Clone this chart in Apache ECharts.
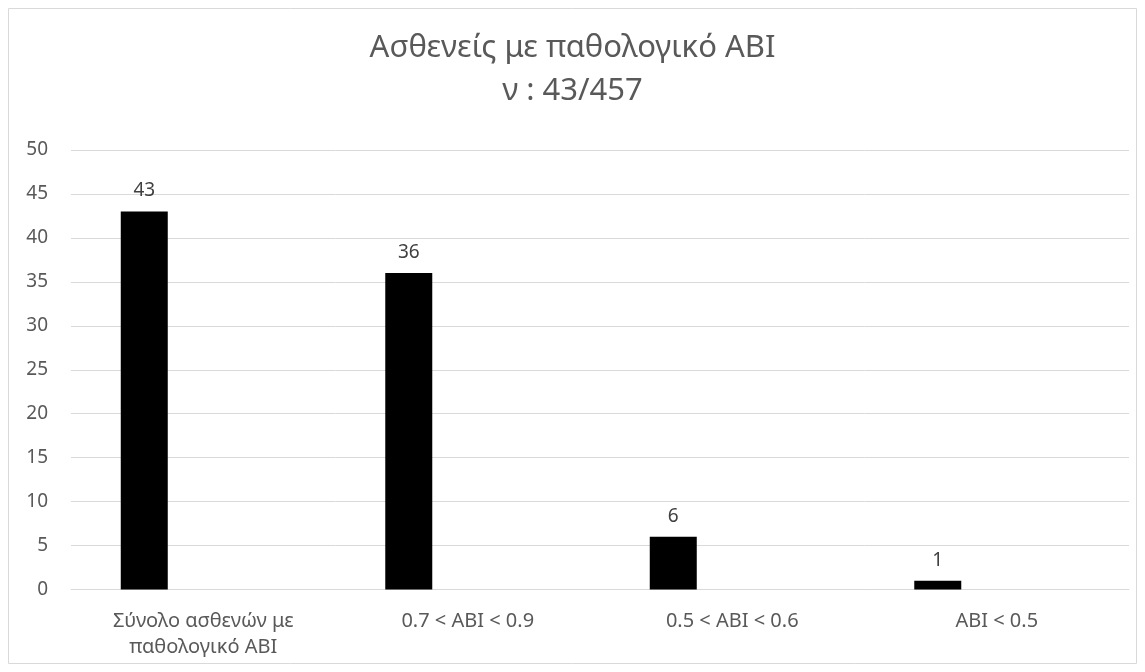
<!DOCTYPE html>
<html><head><meta charset="utf-8">
<script src="https://cdn.jsdelivr.net/npm/echarts@6/dist/echarts.min.js"></script>
<style>html,body{margin:0;padding:0;background:#fff}#c{width:1145px;height:672px}</style>
</head><body><div id="c"></div>
<script>
const titleLines = ['Ασθενείς με παθολογικό ABI', 'ν : 43/457'];
const categories = ['Σύνολο ασθενών με\nπαθολογικό ABI', '0.7 < ABI < 0.9', '0.5 < ABI < 0.6', 'ABI < 0.5'];
const values = [43, 36, 6, 1];
const emptySeries = [null, null, null, null];
const yMin = 0, yMax = 50, yInterval = 5;

const FONT = 'Noto Sans';
const chart = echarts.init(document.getElementById('c'));
chart.setOption({
  animation: false,
  backgroundColor: '#fff',
  graphic: [{type: 'rect', shape: {x: 8.5, y: 8.5, width: 1128, height: 655}, style: {fill: 'none', stroke: '#d9d9d9', lineWidth: 1}, silent: true}],
  title: {
    text: titleLines.join('\n'),
    left: 'center', top: 22,
    textStyle: {fontFamily: FONT, fontWeight: 'normal', fontSize: 31, color: '#595959', lineHeight: 43}
  },
  grid: {left: 71, right: 16, top: 150, bottom: 82.5, containLabel: false},
  xAxis: {
    type: 'category', data: categories,
    axisLine: {lineStyle: {color: '#d9d9d9', width: 1}},
    axisTick: {show: false},
    axisLabel: {fontFamily: FONT, fontSize: 20, color: '#595959', margin: 19, lineHeight: 26, interval: 0}
  },
  yAxis: {
    type: 'value', min: yMin, max: yMax, interval: yInterval,
    axisLine: {show: false}, axisTick: {show: false},
    splitLine: {lineStyle: {color: '#d9d9d9', width: 1}},
    axisLabel: {fontFamily: FONT, fontSize: 19, color: '#595959', margin: 23}
  },
  series: [
    {type: 'bar', data: values, barWidth: 47, barGap: '151%', itemStyle: {color: '#000'},
     label: {show: true, position: 'top', distance: 11, fontFamily: FONT, fontSize: 19, color: '#404040'}},
    {type: 'bar', data: emptySeries, barWidth: 47, itemStyle: {color: '#000'}}
  ]
});
</script></body></html>
